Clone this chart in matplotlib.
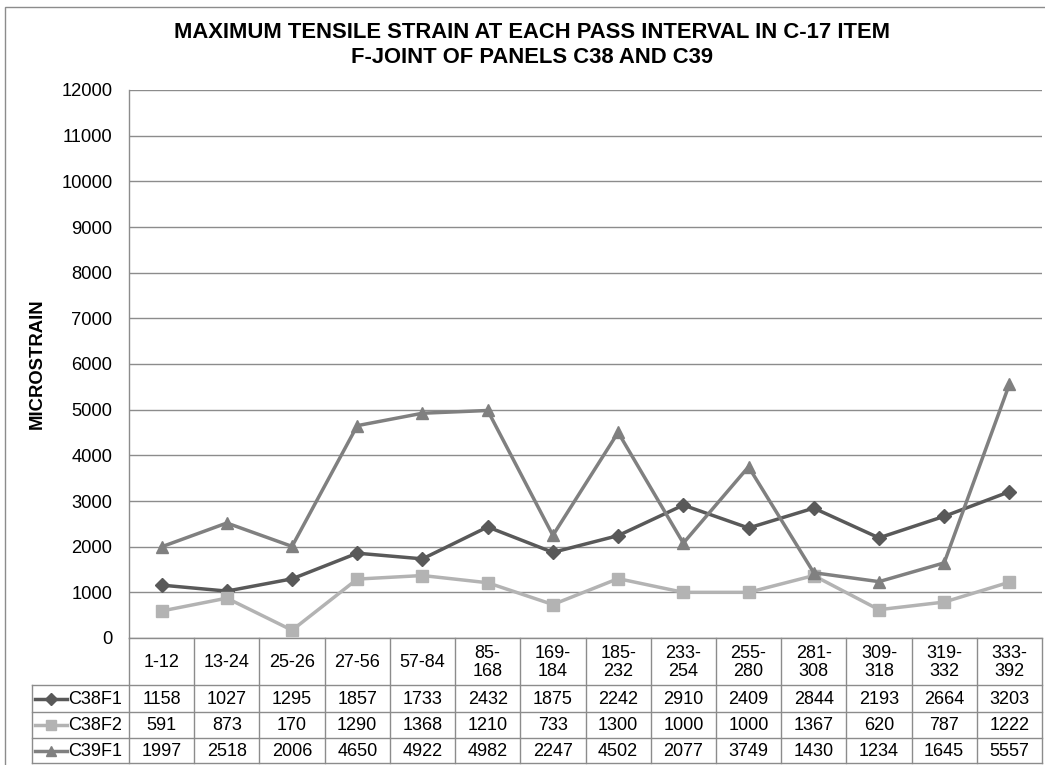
import matplotlib
matplotlib.use("Agg")
import matplotlib.pyplot as plt
from matplotlib.lines import Line2D
from matplotlib.patches import Rectangle

plt.rcParams['font.family'] = ['Liberation Sans', 'DejaVu Sans']

categories = ["1-12", "13-24", "25-26", "27-56", "57-84", "85-\n168", "169-\n184",
              "185-\n232", "233-\n254", "255-\n280", "281-\n308", "309-\n318",
              "319-\n332", "333-\n392"]
c38f1 = [1158, 1027, 1295, 1857, 1733, 2432, 1875, 2242, 2910, 2409, 2844, 2193, 2664, 3203]
c38f2 = [591, 873, 170, 1290, 1368, 1210, 733, 1300, 1000, 1000, 1367, 620, 787, 1222]
c39f1 = [1997, 2518, 2006, 4650, 4922, 4982, 2247, 4502, 2077, 3749, 1430, 1234, 1645, 5557]
series_names = ["C38F1", "C38F2", "C39F1"]
series_values = [c38f1, c38f2, c39f1]
y_ticks = list(range(0, 12001, 1000))

title = "MAXIMUM TENSILE STRAIN AT EACH PASS INTERVAL IN C-17 ITEM\nF-JOINT OF PANELS C38 AND C39"
ylabel = "MICROSTRAIN"

styles = [
    dict(color="#595959", marker="D", ms=7, lw=2.5),
    dict(color="#b3b3b3", marker="s", ms=8.5, lw=2.5),
    dict(color="#808080", marker="^", ms=9, lw=2.5),
]

W, H = 1045, 765
fig = plt.figure(figsize=(W / 100, H / 100), dpi=100)


def fx(x):
    return x / W


def fy(y):
    return 1 - y / H


L, R, T, B = 129, 1042, 90, 638
ax = fig.add_axes([fx(L), fy(B), (R - L) / W, (B - T) / H])
n = len(categories)
xs = list(range(n))
ax.set_xlim(-0.5, n - 0.5)
ax.set_ylim(0, 12000)
ax.set_yticks(y_ticks)
ax.set_yticklabels([str(v) for v in y_ticks], fontsize=13.2)
ax.tick_params(axis='y', length=0, pad=12)
ax.set_xticks([])
ax.grid(axis='y', color='#8c8c8c', lw=1)
ax.set_axisbelow(True)
for s in ['top', 'right']:
    ax.spines[s].set_visible(False)
for s in ['left', 'bottom']:
    ax.spines[s].set_color('#8c8c8c')
    ax.spines[s].set_linewidth(1)

for vals, st in zip(series_values, styles):
    ax.plot(xs, vals, color=st['color'], lw=st['lw'], marker=st['marker'],
            ms=st['ms'], mfc=st['color'], mec=st['color'], zorder=3)

# Title and y label
fig.text(fx(532), fy(45), title, ha='center', va='center', fontsize=15.8,
         fontweight='bold', linespacing=1.2)
fig.text(fx(37), fy(364), ylabel, ha='center', va='center', rotation=90,
         fontsize=13.3, fontweight='bold')

# Data table
gc = '#8c8c8c'
cw = (R - L) / n
rows_y = [685, 712, 738, 763]
hdr_left = 32


def hline(x0, x1, y):
    fig.add_artist(Line2D([fx(x0), fx(x1)], [fy(y), fy(y)], color=gc, lw=1))


def vline(x, y0, y1):
    fig.add_artist(Line2D([fx(x), fx(x)], [fy(y0), fy(y1)], color=gc, lw=1))


for y in rows_y:
    hline(hdr_left, R, y)
for k in range(n + 1):
    vline(L + k * cw, B, rows_y[-1])
vline(hdr_left, rows_y[0], rows_y[-1])

for i, cat in enumerate(categories):
    cx = L + (i + 0.5) * cw
    fig.text(fx(cx), fy((B + rows_y[0]) / 2 + 1), cat, ha='center', va='center',
             fontsize=13, linespacing=1.05)

for r, (name, vals, st) in enumerate(zip(series_names, series_values, styles)):
    y0 = rows_y[r]
    y1 = rows_y[r + 1]
    cy = (y0 + y1) / 2
    fig.add_artist(Line2D([fx(35), fx(67)], [fy(cy), fy(cy)], color=st['color'],
                          lw=st['lw']))
    fig.add_artist(Line2D([fx(51)], [fy(cy)], color=st['color'], marker=st['marker'],
                          ms=st['ms'] * 0.85, lw=0))
    fig.text(fx(68), fy(cy + 1), name, ha='left', va='center', fontsize=13)
    for i, v in enumerate(vals):
        cx = L + (i + 0.5) * cw
        fig.text(fx(cx), fy(cy + 1), str(v), ha='center', va='center', fontsize=13)

# Outer chart border
fig.add_artist(Rectangle((fx(5), fy(800)), (1100 - 5) / W, (800 - 7) / H,
                         transform=fig.transFigure, fill=False, edgecolor='#8c8c8c',
                         lw=1, clip_on=False))

fig.savefig("out.png", dpi=100)
